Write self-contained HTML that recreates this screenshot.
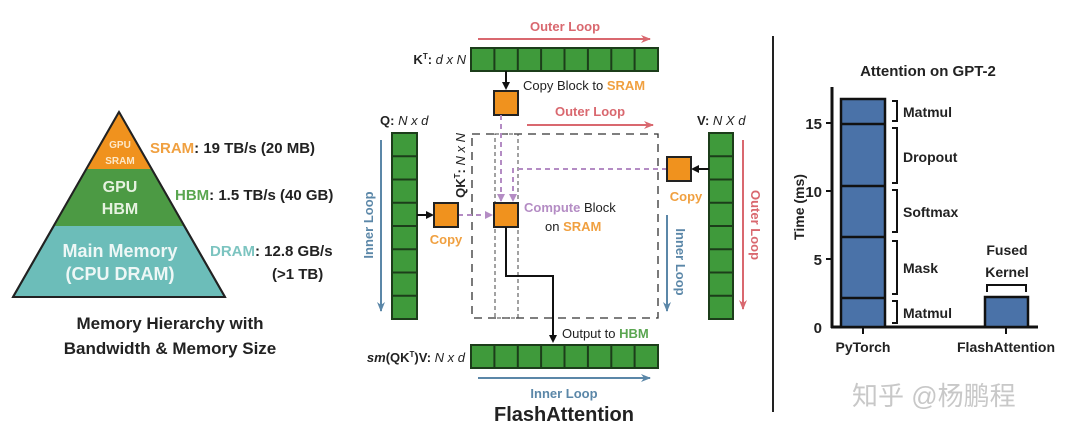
<!DOCTYPE html>
<html><head><meta charset="utf-8"><style>
html,body{margin:0;padding:0;background:#fff;width:1080px;height:438px;overflow:hidden}
svg{display:block}
text{font-family:"Liberation Sans",sans-serif;}
</style></head><body>
<svg width="1080" height="438" viewBox="0 0 1080 438" xmlns="http://www.w3.org/2000/svg">
<defs>
<marker id="ak" markerWidth="8" markerHeight="8" refX="6" refY="4" orient="auto" markerUnits="userSpaceOnUse"><path d="M0,0 L8,4 L0,8 z" fill="#111"/></marker>
<marker id="ap" markerWidth="10" markerHeight="8" refX="9" refY="4" orient="auto" markerUnits="userSpaceOnUse"><path d="M0,0 L10,4 L0,8 L3,4 z" fill="#d9686f"/></marker>
<marker id="ab" markerWidth="10" markerHeight="8" refX="9" refY="4" orient="auto" markerUnits="userSpaceOnUse"><path d="M0,0 L10,4 L0,8 L3,4 z" fill="#5b87a8"/></marker>
<marker id="au" markerWidth="8" markerHeight="8" refX="7" refY="4" orient="auto" markerUnits="userSpaceOnUse"><path d="M0,0 L8,4 L0,8 z" fill="#b48cc4"/></marker>
</defs>
<!-- Pyramid -->
<polygon points="119,112 13,297 225,297" fill="#6cbdb9" stroke="#222" stroke-width="2"/>
<polygon points="86,169 152,169 185,226 53,226" fill="#4c9a44"/>
<polygon points="119,112 86,169 152,169" fill="#f0921e"/>
<line x1="119" y1="112" x2="13" y2="297" stroke="#222" stroke-width="2"/>
<line x1="119" y1="112" x2="225" y2="297" stroke="#222" stroke-width="2"/>
<text x="120" y="148" font-size="10" font-weight="bold" fill="#fde8c8" text-anchor="middle">GPU</text>
<text x="120" y="164" font-size="10" font-weight="bold" fill="#fde8c8" text-anchor="middle">SRAM</text>
<text x="120" y="192" font-size="16" font-weight="bold" fill="#e6f2e0" text-anchor="middle">GPU</text>
<text x="120" y="214" font-size="16" font-weight="bold" fill="#e6f2e0" text-anchor="middle">HBM</text>
<text x="120" y="257" font-size="18" font-weight="bold" fill="#eef7f6" text-anchor="middle">Main Memory</text>
<text x="120" y="280" font-size="18" font-weight="bold" fill="#eef7f6" text-anchor="middle">(CPU DRAM)</text>
<text x="150" y="153" font-size="15" font-weight="bold" fill="#222"><tspan fill="#f0a040">SRAM</tspan>: 19 TB/s (20 MB)</text>
<text x="175" y="200" font-size="15" font-weight="bold" fill="#222"><tspan fill="#5aa650">HBM</tspan>: 1.5 TB/s (40 GB)</text>
<text x="210" y="256" font-size="15" font-weight="bold" fill="#222"><tspan fill="#7cc4c0">DRAM</tspan>: 12.8 GB/s</text>
<text x="272" y="279" font-size="15" font-weight="bold" fill="#222">(&gt;1 TB)</text>
<text x="170" y="329" font-size="17" font-weight="bold" fill="#222" text-anchor="middle">Memory Hierarchy with</text>
<text x="170" y="354" font-size="17" font-weight="bold" fill="#222" text-anchor="middle">Bandwidth &amp; Memory Size</text>

<!-- FlashAttention -->
<text x="565" y="31" font-size="13" font-weight="bold" fill="#d9686f" text-anchor="middle">Outer Loop</text>
<line x1="478" y1="39" x2="650" y2="39" stroke="#d9686f" stroke-width="2" marker-end="url(#ap)"/>
<text x="466" y="64" font-size="13" font-weight="bold" fill="#222" text-anchor="end">K<tspan font-size="8" dy="-5">T</tspan><tspan dy="5">: </tspan><tspan font-style="italic" font-weight="normal">d x N</tspan></text>
<g fill="#3f9a3b" stroke="#1c3d1a" stroke-width="2">
<rect x="471" y="48" width="187" height="23"/>
</g>
<g stroke="#1c3d1a" stroke-width="2">
<line x1="494.4" y1="48" x2="494.4" y2="71"/><line x1="517.8" y1="48" x2="517.8" y2="71"/><line x1="541.1" y1="48" x2="541.1" y2="71"/><line x1="564.5" y1="48" x2="564.5" y2="71"/><line x1="587.9" y1="48" x2="587.9" y2="71"/><line x1="611.3" y1="48" x2="611.3" y2="71"/><line x1="634.6" y1="48" x2="634.6" y2="71"/>
</g>
<line x1="506" y1="71" x2="506" y2="88" stroke="#111" stroke-width="2" marker-end="url(#ak)"/>
<text x="523" y="90" font-size="13" fill="#222">Copy Block to <tspan fill="#f0a040" font-weight="bold">SRAM</tspan></text>
<rect x="494" y="91" width="24" height="24" fill="#f0921e" stroke="#222" stroke-width="2"/>
<text x="590" y="116" font-size="13" font-weight="bold" fill="#d9686f" text-anchor="middle">Outer Loop</text>
<line x1="527" y1="125" x2="653" y2="125" stroke="#d9686f" stroke-width="2" marker-end="url(#ap)"/>

<!-- dashed boxes -->
<rect x="472" y="134" width="186" height="184" fill="none" stroke="#333" stroke-width="1.3" stroke-dasharray="8,6"/>
<rect x="495" y="134" width="23" height="184" fill="none" stroke="#444" stroke-width="1" stroke-dasharray="4,3"/>
<text transform="translate(465,133) rotate(-90)" font-size="13" fill="#222" text-anchor="end"><tspan font-weight="bold">QK<tspan font-size="8" dy="-5">T</tspan><tspan dy="5">: </tspan></tspan><tspan font-style="italic">N x N</tspan></text>

<!-- purple dashed -->
<line x1="501" y1="115" x2="501" y2="201" stroke="#b48cc4" stroke-width="2" stroke-dasharray="5,4" marker-end="url(#au)"/>
<polyline points="667,169 513,169 513,201" fill="none" stroke="#b48cc4" stroke-width="2" stroke-dasharray="5,4" marker-end="url(#au)"/>
<line x1="458" y1="215" x2="492" y2="215" stroke="#b48cc4" stroke-width="2" stroke-dasharray="5,4" marker-end="url(#au)"/>

<!-- Q -->
<text x="380" y="125" font-size="13" fill="#222"><tspan font-weight="bold">Q: </tspan><tspan font-style="italic">N x d</tspan></text>
<rect x="392" y="133" width="25" height="186" fill="#3f9a3b" stroke="#1c3d1a" stroke-width="2"/>
<g stroke="#1c3d1a" stroke-width="2">
<line x1="392" y1="156.3" x2="417" y2="156.3"/><line x1="392" y1="179.5" x2="417" y2="179.5"/><line x1="392" y1="202.8" x2="417" y2="202.8"/><line x1="392" y1="226" x2="417" y2="226"/><line x1="392" y1="249.3" x2="417" y2="249.3"/><line x1="392" y1="272.5" x2="417" y2="272.5"/><line x1="392" y1="295.8" x2="417" y2="295.8"/>
</g>
<line x1="381" y1="140" x2="381" y2="311" stroke="#5b87a8" stroke-width="2" marker-end="url(#ab)"/>
<text transform="translate(373,225) rotate(-90)" font-size="13" font-weight="bold" fill="#5b87a8" text-anchor="middle">Inner Loop</text>
<line x1="417" y1="215" x2="432" y2="215" stroke="#111" stroke-width="2" marker-end="url(#ak)"/>
<rect x="434" y="203" width="24" height="24" fill="#f0921e" stroke="#222" stroke-width="2"/>
<text x="446" y="244" font-size="13" font-weight="bold" fill="#f0a040" text-anchor="middle">Copy</text>

<!-- compute -->
<rect x="494" y="203" width="24" height="24" fill="#f0921e" stroke="#222" stroke-width="2"/>
<text x="524" y="212" font-size="13" fill="#222"><tspan fill="#b48cc4" font-weight="bold">Compute</tspan> Block</text>
<text x="545" y="231" font-size="13" fill="#222">on <tspan fill="#f0a040" font-weight="bold">SRAM</tspan></text>
<polyline points="506,227 506,276 553,276 553,341" fill="none" stroke="#111" stroke-width="2" marker-end="url(#ak)"/>
<text x="562" y="338" font-size="13" fill="#222">Output to <tspan fill="#5aa650" font-weight="bold">HBM</tspan></text>

<!-- V -->
<text x="697" y="125" font-size="13" fill="#222"><tspan font-weight="bold">V: </tspan><tspan font-style="italic">N X d</tspan></text>
<rect x="709" y="133" width="24" height="186" fill="#3f9a3b" stroke="#1c3d1a" stroke-width="2"/>
<g stroke="#1c3d1a" stroke-width="2">
<line x1="709" y1="156.3" x2="733" y2="156.3"/><line x1="709" y1="179.5" x2="733" y2="179.5"/><line x1="709" y1="202.8" x2="733" y2="202.8"/><line x1="709" y1="226" x2="733" y2="226"/><line x1="709" y1="249.3" x2="733" y2="249.3"/><line x1="709" y1="272.5" x2="733" y2="272.5"/><line x1="709" y1="295.8" x2="733" y2="295.8"/>
</g>
<line x1="709" y1="169" x2="693" y2="169" stroke="#111" stroke-width="2" marker-end="url(#ak)"/>
<rect x="667" y="157" width="24" height="24" fill="#f0921e" stroke="#222" stroke-width="2"/>
<text x="686" y="201" font-size="13" font-weight="bold" fill="#f0a040" text-anchor="middle">Copy</text>
<line x1="667" y1="215" x2="667" y2="311" stroke="#5b87a8" stroke-width="2" marker-end="url(#ab)"/>
<text transform="translate(676,262) rotate(90)" font-size="13" font-weight="bold" fill="#5b87a8" text-anchor="middle">Inner Loop</text>
<line x1="743" y1="140" x2="743" y2="309" stroke="#d9686f" stroke-width="2" marker-end="url(#ap)"/>
<text transform="translate(751,225) rotate(90)" font-size="13" font-weight="bold" fill="#d9686f" text-anchor="middle">Outer Loop</text>

<!-- output bar -->
<text x="465" y="362" font-size="13" fill="#222" text-anchor="end"><tspan font-style="italic" font-weight="bold">sm</tspan><tspan font-weight="bold">(QK<tspan font-size="8" dy="-5">T</tspan><tspan dy="5">)V: </tspan></tspan><tspan font-style="italic">N x d</tspan></text>
<rect x="471" y="345" width="187" height="23" fill="#3f9a3b" stroke="#1c3d1a" stroke-width="2"/>
<g stroke="#1c3d1a" stroke-width="2">
<line x1="494.4" y1="345" x2="494.4" y2="368"/><line x1="517.8" y1="345" x2="517.8" y2="368"/><line x1="541.1" y1="345" x2="541.1" y2="368"/><line x1="564.5" y1="345" x2="564.5" y2="368"/><line x1="587.9" y1="345" x2="587.9" y2="368"/><line x1="611.3" y1="345" x2="611.3" y2="368"/><line x1="634.6" y1="345" x2="634.6" y2="368"/>
</g>
<line x1="478" y1="378" x2="650" y2="378" stroke="#5b87a8" stroke-width="2" marker-end="url(#ab)"/>
<text x="564" y="398" font-size="13" font-weight="bold" fill="#5b87a8" text-anchor="middle">Inner Loop</text>
<text x="564" y="421" font-size="20" font-weight="bold" fill="#222" text-anchor="middle">FlashAttention</text>

<line x1="773" y1="36" x2="773" y2="412" stroke="#222" stroke-width="2"/>

<!-- chart -->
<text x="928" y="76" font-size="15" font-weight="bold" fill="#222" text-anchor="middle">Attention on GPT-2</text>
<line x1="832" y1="87" x2="832" y2="328" stroke="#111" stroke-width="3"/>
<line x1="831" y1="327" x2="1038" y2="327" stroke="#111" stroke-width="3"/>
<g stroke="#111" stroke-width="2"><line x1="826" y1="123" x2="832" y2="123"/><line x1="826" y1="191" x2="832" y2="191"/><line x1="826" y1="259" x2="832" y2="259"/><line x1="863" y1="327" x2="863" y2="334"/><line x1="1006" y1="327" x2="1006" y2="334"/></g>
<g font-size="15" font-weight="bold" fill="#222" text-anchor="end"><text x="822" y="129">15</text><text x="822" y="197">10</text><text x="822" y="265">5</text><text x="822" y="333">0</text></g>
<text transform="translate(804,207) rotate(-90)" font-size="14" font-weight="bold" fill="#222" text-anchor="middle">Time (ms)</text>
<rect x="841" y="99" width="44" height="228" fill="#4a72a8" stroke="#111" stroke-width="2.5"/>
<g stroke="#111" stroke-width="2.5"><line x1="841" y1="124" x2="885" y2="124"/><line x1="841" y1="186" x2="885" y2="186"/><line x1="841" y1="237" x2="885" y2="237"/><line x1="841" y1="298" x2="885" y2="298"/></g>
<g fill="none" stroke="#111" stroke-width="2">
<polyline points="892,101 897,101 897,121 892,121"/>
<polyline points="892,128 897,128 897,183 892,183"/>
<polyline points="892,190 897,190 897,232 892,232"/>
<polyline points="892,241 897,241 897,294 892,294"/>
<polyline points="892,301 897,301 897,323 892,323"/>
<polyline points="987,292 987,285 1026,285 1026,292"/>
</g>
<g font-size="14" font-weight="bold" fill="#222">
<text x="903" y="117">Matmul</text><text x="903" y="162">Dropout</text><text x="903" y="217">Softmax</text><text x="903" y="273">Mask</text><text x="903" y="318">Matmul</text>
</g>
<rect x="985" y="297" width="43" height="30" fill="#4a72a8" stroke="#111" stroke-width="2.5"/>
<text x="1007" y="255" font-size="14" font-weight="bold" fill="#222" text-anchor="middle">Fused</text>
<text x="1007" y="277" font-size="14" font-weight="bold" fill="#222" text-anchor="middle">Kernel</text>
<text x="863" y="352" font-size="14" font-weight="bold" fill="#222" text-anchor="middle">PyTorch</text>
<text x="1006" y="352" font-size="14" font-weight="bold" fill="#222" text-anchor="middle">FlashAttention</text>
<text x="852" y="405" font-size="26" fill="#c8c8c8" font-family="'Liberation Sans','Noto Sans CJK SC',sans-serif">知乎 @杨鹏程</text>
</svg>
</body></html>
